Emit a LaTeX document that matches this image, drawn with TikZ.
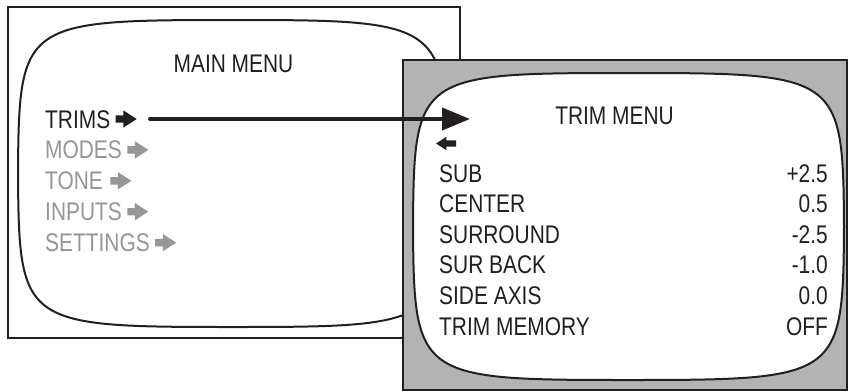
\documentclass[tikz,border=0pt]{standalone}
\usepackage{fontspec}
\newfontfamily\menufont[FakeStretch=0.82]{Liberation Sans}
\usetikzlibrary{arrows.meta,positioning,shapes.arrows}
\definecolor{inkblack}{RGB}{35,31,32}
\definecolor{menugray}{RGB}{150,150,150}
\definecolor{panelgray}{RGB}{179,179,179}
\tikzset{
  frame/.style={draw=inkblack, line width=2pt},
  screen/.style={draw=inkblack, fill=white, line width=2pt},
  item/.style={inner sep=0pt, text height=18pt, text depth=0pt, text=inkblack,
               font=\menufont\fontsize{25.5pt}{30pt}\selectfont},
  dimitem/.style={item, text=menugray},
  marr/.style={single arrow, fill=inkblack, inner sep=0pt, text height=3.5pt, text depth=3.5pt,
               minimum height=21pt, minimum width=0pt, single arrow head extend=5pt,
               single arrow tip angle=66},
  dimarr/.style={marr, fill=menugray},
  bigflow/.style={-{Triangle[length=28pt,width=22pt]}, line width=4pt, line cap=round, draw=inkblack},
}
% tv screen outline: left, top, right, bottom
\newcommand{\crtscreen}[4]{%
  \path[screen] (#1,{(#2+#4)/2}) .. controls (#1+1,#2+2) and (#1+4,#2) .. ({(#1+#3)/2},#2)
    .. controls (#3-4,#2) and (#3-1,#2+2) .. (#3,{(#2+#4)/2})
    .. controls (#3-1,#4-2) and (#3-4,#4) .. ({(#1+#3)/2},#4)
    .. controls (#1+4,#4) and (#1+1,#4-2) .. cycle;}

\begin{document}
\begin{tikzpicture}[x=1pt, y=-1pt]
  \useasboundingbox (0,0) rectangle (848,391);
  % main menu screen
  \draw[frame] (8,7) rectangle (460,338);
  \crtscreen{18}{20}{447}{327}
  % trim menu screen
  \draw[frame, fill=panelgray] (403,60) rectangle (847,390);
  \crtscreen{413}{73}{844}{380}

  \node[item, anchor=base] (mainttl) at (233.5,72) {MAIN MENU};
  \node[item, anchor=base west] (trims) at (45,128) {TRIMS};
  \node[dimitem, below=12.5pt of trims.south west, anchor=north west] (modes) {MODES};
  \node[dimitem, below=12.5pt of modes.south west, anchor=north west] (tone) {TONE};
  \node[dimitem, below=12.5pt of tone.south west, anchor=north west] (inputs) {INPUTS};
  \node[dimitem, below=12.5pt of inputs.south west, anchor=north west] (settings) {SETTINGS};
  \node[marr, right=5pt of trims] (trimsarr) {};
  \node[dimarr, right=5pt of modes] (modesarr) {};
  \node[dimarr, right=7pt of tone] (tonearr) {};
  \node[dimarr, right=5pt of inputs] (inputsarr) {};
  \node[dimarr, right=5pt of settings] (settingsarr) {};

  \node[item, anchor=base] (trimttl) at (614.5,124) {TRIM MENU};
  \node[marr, shape border rotate=180, minimum height=20pt, text height=3pt, text depth=3pt,
        single arrow head extend=3.5pt] (backarr) at (448.5,143.5) {};
  \node[item, anchor=base west] (sub) at (439,182) {SUB};
  \node[item, below=12.2pt of sub.south west, anchor=north west] (center) {CENTER};
  \node[item, below=12.2pt of center.south west, anchor=north west] (surround) {SURROUND};
  \node[item, below=12.2pt of surround.south west, anchor=north west] (surback) {SUR BACK};
  \node[item, below=12.2pt of surback.south west, anchor=north west] (sideaxis) {SIDE AXIS};
  \node[item, below=12.2pt of sideaxis.south west, anchor=north west] (trimmem) {TRIM MEMORY};
  \coordinate (valcol) at (828,0);
  \node[item, anchor=base east] (subval) at (sub.base -| valcol) {+2.5};
  \node[item, anchor=base east] (centerval) at (center.base -| valcol) {0.5};
  \node[item, anchor=base east] (surroundval) at (surround.base -| valcol) {-2.5};
  \node[item, anchor=base east] (surbackval) at (surback.base -| valcol) {-1.0};
  \node[item, anchor=base east] (sideaxisval) at (sideaxis.base -| valcol) {0.0};
  \node[item, anchor=base east] (trimmemval) at (trimmem.base -| valcol) {OFF};

  \coordinate (trimin) at (470,0);
  \draw[bigflow] ([xshift=13pt]trimsarr.tip) -- (trimsarr.tip -| trimin);
\end{tikzpicture}
\end{document}
